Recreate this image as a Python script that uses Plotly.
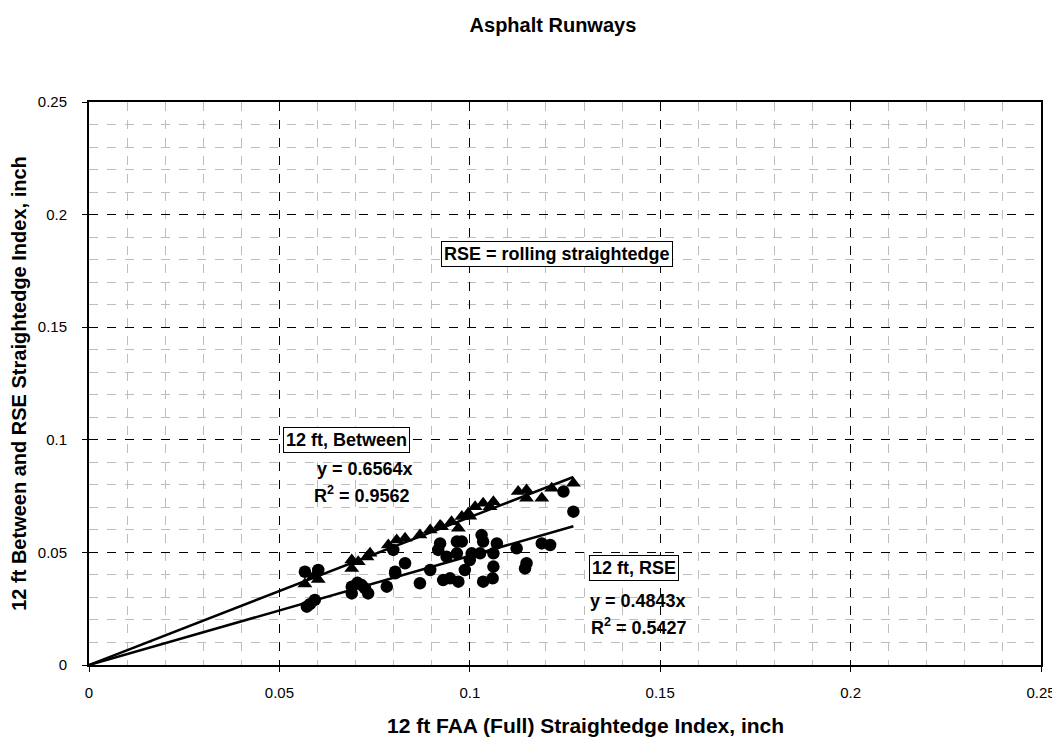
import plotly.graph_objects as go

# 12 ft, Between (triangles)
between_x = [0.0567, 0.0590, 0.0602, 0.0690, 0.0690, 0.0707, 0.0738, 0.0730, 0.0786, 0.0808,
             0.0830, 0.0869, 0.0896, 0.0926, 0.0922, 0.0952, 0.0970, 0.0979, 0.0996, 0.1000,
             0.1014, 0.1035, 0.1053, 0.1062, 0.1127, 0.1149, 0.1149, 0.1189, 0.1215, 0.1272]
between_y = [0.0360, 0.0395, 0.0380, 0.0466, 0.0429, 0.0459, 0.0496, 0.0480, 0.0533, 0.0555,
             0.0563, 0.0577, 0.0600, 0.0614, 0.0620, 0.0636, 0.0607, 0.0659, 0.0674, 0.0660,
             0.0703, 0.0718, 0.0703, 0.0725, 0.0770, 0.0777, 0.0740, 0.0740, 0.0785, 0.0807]

# 12 ft, RSE (circles)
rse_x = [0.0567, 0.0602, 0.0572, 0.0580, 0.0593, 0.0690, 0.0690, 0.0705, 0.0716, 0.0733,
         0.0725, 0.0782, 0.0804, 0.0799, 0.0830, 0.0804, 0.0896, 0.0869, 0.0922, 0.0917,
         0.0930, 0.0948, 0.0970, 0.0939, 0.0966, 0.0979, 0.0966, 0.0987, 0.1000, 0.1005,
         0.1031, 0.1035, 0.1035, 0.1060, 0.1027, 0.1062, 0.1071, 0.1123, 0.1062, 0.1145,
         0.1149, 0.1189, 0.1211, 0.1246, 0.1272]
rse_y = [0.0414, 0.0422, 0.0259, 0.0270, 0.0289, 0.0348, 0.0318, 0.0365, 0.0355, 0.0318,
         0.0340, 0.0348, 0.0414, 0.0511, 0.0452, 0.0407, 0.0422, 0.0363, 0.0540, 0.0511,
         0.0377, 0.0385, 0.0370, 0.0481, 0.0548, 0.0548, 0.0496, 0.0422, 0.0466, 0.0496,
         0.0577, 0.0548, 0.0370, 0.0385, 0.0496, 0.0496, 0.0540, 0.0518, 0.0437, 0.0429,
         0.0452, 0.0540, 0.0533, 0.0770, 0.0681]

slope_between = 0.6564
r2_between = 0.9562
slope_rse = 0.4843
r2_rse = 0.5427

tick_vals = [0, 0.05, 0.1, 0.15, 0.2, 0.25]
tick_text = ["0", "0.05", "0.1", "0.15", "0.2", "0.25"]

FONT = "Liberation Sans, Arial, sans-serif"

fig = go.Figure()

xmax = max(between_x + rse_x)
fig.add_trace(go.Scatter(x=[0, xmax], y=[0, slope_between * xmax], mode="lines",
                         line=dict(color="black", width=2.5), showlegend=False, hoverinfo="skip"))
fig.add_trace(go.Scatter(x=[0, xmax], y=[0, slope_rse * xmax], mode="lines",
                         line=dict(color="black", width=2.5), showlegend=False, hoverinfo="skip"))
fig.add_trace(go.Scatter(x=between_x, y=between_y, mode="markers", name="12 ft, Between",
                         marker=dict(symbol="triangle-up", size=13, color="black"), showlegend=False))
fig.add_trace(go.Scatter(x=rse_x, y=rse_y, mode="markers", name="12 ft, RSE",
                         marker=dict(symbol="circle", size=12.5, color="black"), showlegend=False))

axis_common = dict(
    range=[0, 0.25], tickvals=tick_vals, ticktext=tick_text,
    showgrid=True, gridcolor="black", griddash="dash", gridwidth=1,
    minor=dict(dtick=0.01, showgrid=True, gridcolor="#bdbdbd", griddash="dash", gridwidth=1, ticks=""),
    showline=True, linecolor="black", linewidth=2, mirror=True,
    ticks="outside", ticklen=5, tickcolor="black", zeroline=False,
    tickfont=dict(family=FONT, size=15, color="black"),
    automargin=False, ticklabeloverflow="allow",
)

fig.update_xaxes(**axis_common, ticklabelstandoff=8)
fig.update_yaxes(**axis_common, ticklabelstandoff=12,
                 title=dict(text="<b>12 ft Between and RSE Straightedge Index, inch</b>",
                            font=dict(family=FONT, size=20, color="black"), standoff=10))

ann_font = dict(family=FONT, size=18, color="black")
annotations = [
    dict(x=0.522, y=-0.1066, xref="paper", yref="paper", xanchor="center", yanchor="middle",
         text="<b>12 ft FAA (Full) Straightedge Index, inch</b>", showarrow=False,
         font=dict(family=FONT, size=21, color="black")),
    dict(x=0.1228, y=0.1826, text="<b>RSE = rolling straightedge</b>", showarrow=False,
         bordercolor="black", borderwidth=1, bgcolor="white", borderpad=2, font=ann_font),
    dict(x=0.0677, y=0.1000, text="<b>12 ft, Between</b>", showarrow=False,
         bordercolor="black", borderwidth=1, bgcolor="white", borderpad=2, font=ann_font),
    dict(x=0.0725, y=0.0870, text=f"<b>y = {slope_between}x</b>", showarrow=False, font=ann_font),
    dict(x=0.0717, y=0.0755, text=f"<b>R<sup>2</sup> = {r2_between}</b>", showarrow=False, font=ann_font),
    dict(x=0.1430, y=0.0430, text="<b>12 ft, RSE</b>", showarrow=False,
         bordercolor="black", borderwidth=1, bgcolor="white", borderpad=2, font=ann_font),
    dict(x=0.1443, y=0.0285, text=f"<b>y = {slope_rse}x</b>", showarrow=False, font=ann_font),
    dict(x=0.1445, y=0.0170, text=f"<b>R<sup>2</sup> = {r2_rse}</b>", showarrow=False, font=ann_font),
]

fig.update_layout(
    width=1052, height=732,
    margin=dict(l=81, r=19, t=94, b=75),
    paper_bgcolor="white", plot_bgcolor="white",
    title=dict(text="<b>Asphalt Runways</b>", x=0.518, xanchor="center", y=0.9768, yanchor="middle",
               font=dict(family=FONT, size=20, color="black")),
    annotations=annotations,
    showlegend=False,
)

fig.write_html("out.html")
